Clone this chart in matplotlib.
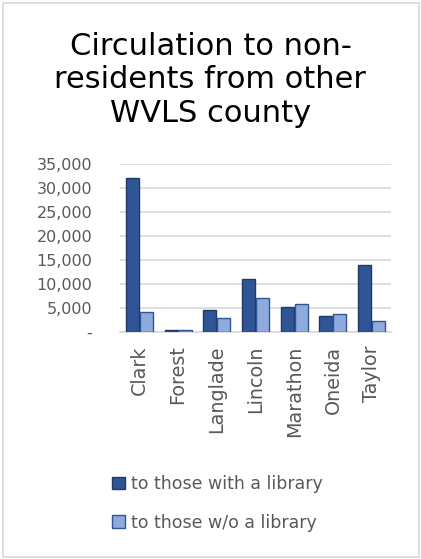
import matplotlib
matplotlib.use("Agg")
import matplotlib.pyplot as plt
import numpy as np
from matplotlib.patches import Rectangle

categories = ["Clark", "Forest", "Langlade", "Lincoln", "Marathon", "Oneida", "Taylor"]
with_library = [32000, 300, 4450, 11050, 5200, 3350, 13900]
without_library = [4050, 400, 2850, 7100, 5700, 3750, 2250]
series_names = ["to those with a library", "to those w/o a library"]
yticks = [0, 5000, 10000, 15000, 20000, 25000, 30000, 35000]
ytick_labels = ["-", "5,000", "10,000", "15,000", "20,000", "25,000", "30,000", "35,000"]

W, H = 421, 559
fig = plt.figure(figsize=(W / 100, H / 100), dpi=100)
plt.rcParams['font.family'] = ['DejaVu Sans']

# chart border
fig.patches.append(Rectangle((2.5 / W, 2.5 / H), (W - 5) / W, (H - 5) / H,
                             transform=fig.transFigure, fill=False,
                             edgecolor="#D9D9D9", linewidth=1.2))

ax = fig.add_axes([120 / W, 1 - 331.7 / H, 271 / W, (331.7 - 164) / H])
x = np.arange(len(categories))
bw = 0.34
dark = "#2F5597"
light = "#8FAADC"
ax.bar(x - bw / 2 - 0.01, with_library, bw, color=dark, edgecolor="#203864",
       linewidth=1.0, label=series_names[0], zorder=3)
ax.bar(x + bw / 2 + 0.01, without_library, bw, color=light, edgecolor=dark,
       linewidth=1.0, label=series_names[1], zorder=3)

ax.set_xlim(-0.5, len(categories) - 0.5)
ax.set_ylim(0, 35000)
ax.set_yticks(yticks)
ax.set_yticklabels(ytick_labels)
ax.yaxis.grid(True, color="#D9D9D9", linewidth=1.2, zorder=0)
ax.set_axisbelow(True)
for s in ["top", "right", "left"]:
    ax.spines[s].set_visible(False)
ax.spines["bottom"].set_color("#D9D9D9")
ax.spines["bottom"].set_linewidth(1.2)
ax.tick_params(axis="both", length=0, colors="#595959")
ax.tick_params(axis="y", pad=20, labelsize=11.5)
ax.set_xticks(x)
ax.set_xticklabels(categories, rotation=90, fontsize=13.8, color="#595959")
ax.tick_params(axis="x", pad=10)

fig.text(0.5, 1 - 80 / H, "Circulation to non-\nresidents from other\nWVLS county",
         ha="center", va="center", fontsize=22, color="black", linespacing=1.18)

handles, labels = ax.get_legend_handles_labels()
leg = fig.legend(handles, labels, loc="upper left", bbox_to_anchor=(105 / W, 1 - 468 / H),
                 frameon=False, fontsize=12.5, labelcolor="#595959",
                 handlelength=0.75, handleheight=0.75, handletextpad=0.35,
                 labelspacing=1.2, borderaxespad=0)

fig.savefig("out.png", dpi=100)
